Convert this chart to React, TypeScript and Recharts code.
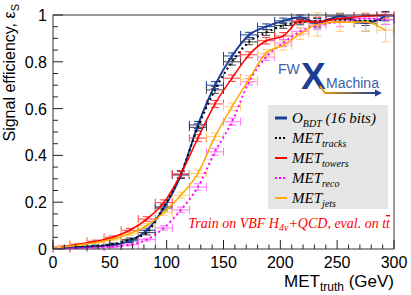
import React from "react";
import { ComposedChart, Scatter, XAxis, YAxis, ErrorBar } from "recharts";

// bin centres and half widths (GeV)
const binCenters = [7.5, 22.5, 37.5, 52.5, 67.5, 82.5, 97.5, 112.5, 127.5, 142.5, 157.5, 172.5, 187.5, 202.5, 217.5, 232.5, 252.5, 275, 292.5];
const binHalfWidths = [7.5, 7.5, 7.5, 7.5, 7.5, 7.5, 7.5, 7.5, 7.5, 7.5, 7.5, 7.5, 7.5, 7.5, 7.5, 7.5, 12.5, 10, 7.5];

const bdtEff = [0.004, 0.008, 0.012, 0.018, 0.035, 0.08, 0.175, 0.316, 0.53, 0.7, 0.825, 0.915, 0.95, 0.975, 0.99, 0.965, 0.995, 0.965, 0.995];
const bdtErr = [0.002, 0.003, 0.004, 0.005, 0.007, 0.01, 0.012, 0.015, 0.015, 0.015, 0.013, 0.011, 0.012, 0.012, 0.01, 0.02, 0.01, 0.035, 0.02];

const tracksEff = [0.004, 0.008, 0.012, 0.02, 0.04, 0.07, 0.18, 0.32, 0.52, 0.68, 0.8, 0.885, 0.925, 0.955, 0.97, 0.975, 0.98, 0.975, 0.98];
const tracksErr = [0.002, 0.003, 0.004, 0.005, 0.007, 0.01, 0.012, 0.015, 0.015, 0.015, 0.014, 0.012, 0.012, 0.012, 0.012, 0.015, 0.012, 0.02, 0.02];

const towersEff = [0.01, 0.02, 0.033, 0.05, 0.08, 0.128, 0.198, 0.32, 0.474, 0.62, 0.73, 0.83, 0.89, 0.91, 0.975, 0.97, 0.985, 0.995, 1.0];
const towersErr = [0.003, 0.004, 0.005, 0.006, 0.008, 0.01, 0.012, 0.014, 0.015, 0.015, 0.014, 0.013, 0.014, 0.015, 0.01, 0.02, 0.012, 0.01, 0.01];

const recoEff = [0.002, 0.004, 0.006, 0.01, 0.018, 0.04, 0.09, 0.167, 0.265, 0.415, 0.544, 0.715, 0.82, 0.88, 0.93, 0.957, 0.97, 0.985, 0.98];
const recoErr = [0.001, 0.002, 0.002, 0.003, 0.004, 0.006, 0.009, 0.012, 0.014, 0.015, 0.015, 0.014, 0.014, 0.015, 0.015, 0.02, 0.02, 0.02, 0.02];

const jetsEff = [0.008, 0.017, 0.028, 0.042, 0.065, 0.1, 0.155, 0.23, 0.323, 0.48, 0.608, 0.726, 0.837, 0.87, 0.92, 0.96, 0.97, 0.97, 0.935];
const jetsErr = [0.003, 0.004, 0.005, 0.006, 0.007, 0.009, 0.011, 0.013, 0.015, 0.016, 0.016, 0.015, 0.015, 0.02, 0.025, 0.05, 0.04, 0.04, 0.05];

const xTicks = [0, 10, 20, 30, 40, 50, 60, 70, 80, 90, 100, 110, 120, 130, 140, 150, 160, 170, 180, 190, 200, 210, 220, 230, 240, 250, 260, 270, 280, 290, 300];
const xMajor = [0, 50, 100, 150, 200, 250, 300];
const yTicks = [0, 0.05, 0.1, 0.15, 0.2, 0.25, 0.3, 0.35, 0.4, 0.45, 0.5, 0.55, 0.6, 0.65, 0.7, 0.75, 0.8, 0.85, 0.9, 0.95, 1];
const yMajor = [0, 0.2, 0.4, 0.6, 0.8, 1];

const build = (eff: number[], err: number[]) =>
  binCenters.map((x, i) => ({ x, y: eff[i], ex: binHalfWidths[i], ey: err[i] }));

const series = [
  { name: "bdt", data: build(bdtEff, bdtErr), color: "#1b3f97", bar: "#1b3f97", width: 2, dash: undefined },
  { name: "tracks", data: build(tracksEff, tracksErr), color: "#000000", bar: "#444444", width: 2, dash: "2 3" },
  { name: "towers", data: build(towersEff, towersErr), color: "#ff0000", bar: "#ff4444", width: 1.5, dash: undefined },
  { name: "reco", data: build(recoEff, recoErr), color: "#ff00ff", bar: "#ff77ff", width: 2, dash: "2 3" },
  { name: "jets", data: build(jetsEff, jetsErr), color: "#ffaa00", bar: "#ffcc77", width: 1.5, dash: undefined },
];

const AXIS_FONT = "'Liberation Sans', Arial, sans-serif";
const SERIF = "'Liberation Serif', 'Times New Roman', serif";

const XTick = (props: any) => {
  const { x, y, payload } = props;
  const major = xMajor.includes(payload.value);
  return (
    <g>
      <line x1={x} y1={y} x2={x} y2={y - (major ? 9 : 4.5)} stroke="#222" strokeWidth={1} />
      {major && (
        <text x={x} y={y + 19} textAnchor="middle" fontSize={16} fontFamily={AXIS_FONT} fill="#000">
          {payload.value}
        </text>
      )}
    </g>
  );
};

const YTick = (props: any) => {
  const { x, y, payload } = props;
  const major = yMajor.some((m) => Math.abs(m - payload.value) < 1e-6);
  return (
    <g>
      <line x1={x} y1={y} x2={x + (major ? 10 : 5)} y2={y} stroke="#222" strokeWidth={1} />
      {major && (
        <text x={x - 6} y={y + 6} textAnchor="end" fontSize={16} fontFamily={AXIS_FONT} fill="#000">
          {String(Math.round(payload.value * 10) / 10)}
        </text>
      )}
    </g>
  );
};

const legendItems = [
  { main: "O", sub: "BDT", extra: " (16 bits)", color: "#1b3f97", dash: undefined, w: 3 },
  { main: "MET", sub: "tracks", extra: "", color: "#000000", dash: "2 2", w: 2 },
  { main: "MET", sub: "towers", extra: "", color: "#ff0000", dash: undefined, w: 2 },
  { main: "MET", sub: "reco", extra: "", color: "#ff00ff", dash: "2 2", w: 2 },
  { main: "MET", sub: "jets", extra: "", color: "#ffaa00", dash: undefined, w: 2 },
];

export default function App() {
  return (
    <div style={{ position: "absolute", left: 0, top: 0, width: 411, height: 295, background: "#fff" }}>
      <ComposedChart width={411} height={295} margin={{ top: 15, right: 17, left: 0, bottom: 0 }}>
        <XAxis
          type="number"
          dataKey="x"
          domain={[0, 300]}
          ticks={xTicks}
          interval={0}
          tickSize={0}
          tickMargin={0}
          tickLine={false}
          tick={<XTick />}
          height={46}
          stroke="#333"
          allowDataOverflow
        />
        <YAxis
          type="number"
          dataKey="y"
          domain={[0, 1]}
          ticks={yTicks}
          interval={0}
          tickSize={0}
          tickMargin={0}
          tickLine={false}
          tick={<YTick />}
          width={53}
          stroke="#333"
          allowDataOverflow
        />
        {series.map((s) => (
          <Scatter
            key={s.name}
            data={s.data}
            isAnimationActive={false}
            shape={() => <g />}
            line={{ stroke: s.color, strokeWidth: s.width, strokeDasharray: s.dash }}
            lineType="joint"
            lineJointType="monotoneX"
          >
            <ErrorBar dataKey="ex" direction="x" width={4} stroke={s.bar} strokeWidth={1} />
            <ErrorBar dataKey="ey" direction="y" width={4} stroke={s.bar} strokeWidth={1} />
          </Scatter>
        ))}
      </ComposedChart>
      <svg width={411} height={295} style={{ position: "absolute", left: 0, top: 0, pointerEvents: "none" }}>
        <defs>
          <linearGradient id="swoosh" x1="0" x2="1" y1="0" y2="0">
            <stop offset="0" stopColor="#f2a400" />
            <stop offset="1" stopColor="#1c3f94" />
          </linearGradient>
        </defs>
        {/* frame top and right */}
        <line x1={53} y1={15} x2={394} y2={15} stroke="#333" strokeWidth={1} />
        <line x1={394} y1={15} x2={394} y2={249} stroke="#333" strokeWidth={1} />

        {/* axis titles */}
        <text transform="translate(15,4) rotate(-90)" textAnchor="end" fontSize={16} fontFamily={AXIS_FONT} fill="#000">
          Signal efficiency, ε<tspan fontSize={11} dy={4}>S</tspan>
        </text>
        <text x={394} y={287} textAnchor="end" fontSize={17} fontFamily={AXIS_FONT} fill="#000">
          MET<tspan fontSize={12} dy={4}>truth</tspan>
          <tspan dy={-4}> (GeV)</tspan>
        </text>

        {/* logo */}
        <line x1={279} y1={59} x2={299} y2={59} stroke="url(#swoosh)" strokeWidth={2} />
        <text x={278} y={74} fontSize={14} fontFamily={AXIS_FONT} fill="#3a62ad">FW</text>
        <text x={301} y={89} fontSize={37} fontWeight="bold" fontFamily={AXIS_FONT} fill="#1c3f94">X</text>
        <text x={326} y={88} fontSize={14} fontFamily={AXIS_FONT} fill="#3a5fa8">Machina</text>
        <polyline points="320,86 325,93 376,93" fill="none" stroke="url(#swoosh)" strokeWidth={2} />
        <polygon points="375,89.5 382,93 375,96.5" fill="#1c3f94" />

        {/* legend */}
        <rect x={268} y={105} width={120} height={104} fill="#e6e6e6" />
        {legendItems.map((it, i) => {
          const cy = 118 + i * 20;
          return (
            <g key={it.sub}>
              <line x1={275} y1={cy} x2={287} y2={cy} stroke={it.color} strokeWidth={it.w} strokeDasharray={it.dash} />
              <text x={292} y={cy + 5} fontSize={15} fontStyle="italic" fontFamily={SERIF} fill="#000">
                {it.main}
                <tspan fontSize={10} dy={4}>{it.sub}</tspan>
                {it.extra && <tspan dy={-4}>{it.extra}</tspan>}
              </text>
            </g>
          );
        })}

        {/* annotation */}
        <text x={390} y={228} textAnchor="end" fontSize={14} fontStyle="italic" fontFamily={SERIF} fill="#ff0000">
          Train on VBF H<tspan fontSize={10} dy={3}>4ν</tspan>
          <tspan dy={-3}>+QCD, eval. on t</tspan>
          <tspan textDecoration="overline" style={{ textDecoration: "overline" }}>t</tspan>
        </text>
      </svg>
    </div>
  );
}
